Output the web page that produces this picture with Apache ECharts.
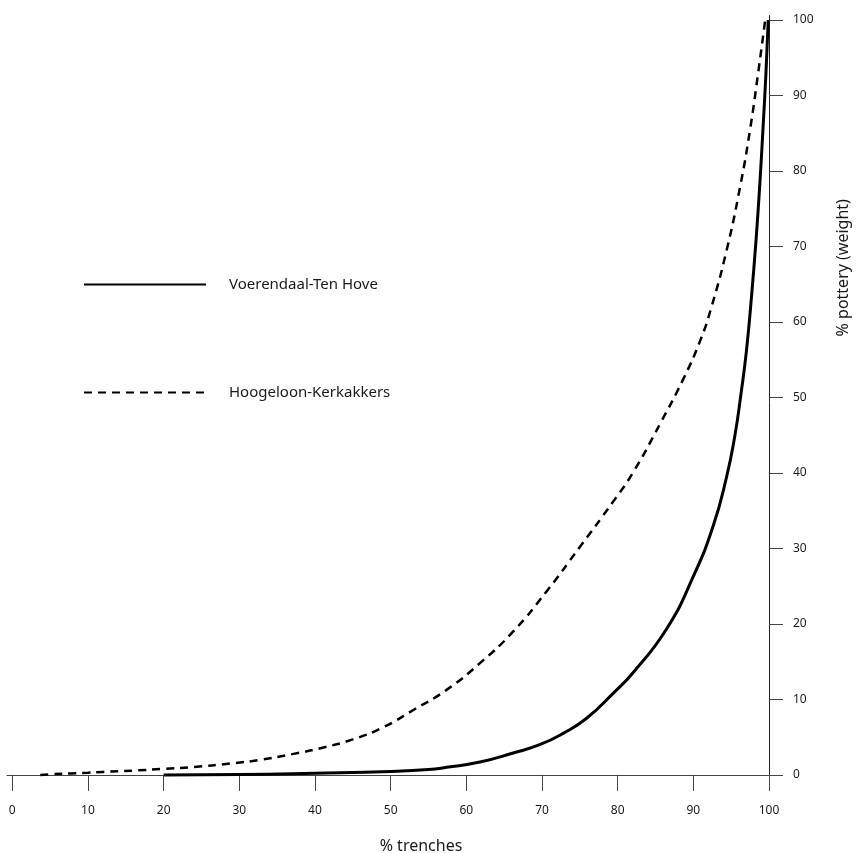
<!DOCTYPE html>
<html>
<head>
<meta charset="utf-8">
<title>pottery vs trenches</title>
<script src="https://cdn.jsdelivr.net/npm/echarts@6/dist/echarts.min.js"></script>
<style>
    html, body { margin: 0; padding: 0; background: #fff; }
    #main { width: 857px; height: 853px; }
</style>
</head>
<body>
<div id="main"></div>
<script>
    // tick labels (both axes 0..100)
    var tickValues = [0, 10, 20, 30, 40, 50, 60, 70, 80, 90, 100];

    // Voerendaal-Ten Hove (solid)
    var voerX = [20, 30, 40, 50, 55, 57.4, 61.8, 66.2, 69.7, 72.8, 75.9, 79.4, 82, 86.5, 90, 92.6, 94.4, 95.5, 96.3, 97, 97.7, 98.3, 98.8, 99.2, 99.6, 99.9];
    var voerY = [0, 0.05, 0.22, 0.45, 0.7, 1.0, 1.7, 2.9, 4.0, 5.5, 7.5, 10.8, 13.5, 19.4, 26.3, 32.9, 39.5, 45, 50.5, 56, 63.5, 71, 78.5, 85.5, 93, 100];

    // Hoogeloon-Kerkakkers (dashed)
    var hoogX = [3.7, 5.4, 7.7, 10, 12, 16, 20, 24, 28.8, 32.8, 37, 41, 45, 49, 53, 57.3, 61.8, 66.2, 70.6, 75, 79.4, 82, 85.6, 88.7, 90.9, 92.4, 94.4, 96.2, 97.5, 98.5, 99.5];
    var hoogY = [0, 0.1, 0.2, 0.3, 0.4, 0.57, 0.8, 1.05, 1.5, 2.0, 2.75, 3.6, 4.7, 6.3, 8.6, 11.2, 14.8, 19, 24.3, 30.2, 36.2, 40, 46.5, 52.5, 57.5, 62, 69.5, 78, 85.5, 92.5, 100];

    function pairs(xs, ys) {
        var out = [];
        for (var i = 0; i < xs.length; i++) out.push([xs[i], ys[i]]);
        return out;
    }

    var font = 'Noto Sans';
    var ink = '#1a1a1a';

    var myChart = echarts.init(document.getElementById('main'));
    var option = {
        animation: false,
        backgroundColor: '#fff',
        textStyle: { fontFamily: font, color: ink },
        grid: {
            left: 7,
            right: 88,
            top: 15.5,
            bottom: 63,
            containLabel: false,
            outerBoundsMode: 'none'
        },
        legend: {
            orient: 'vertical',
            left: 78,
            top: 272,
            itemWidth: 122,
            itemHeight: 14,
            itemGap: 93,
            itemStyle: { opacity: 0 },
            textStyle: { fontFamily: font, fontSize: 15, color: ink, padding: [0, 0, 3, 18] },
            data: ['Voerendaal-Ten Hove', 'Hoogeloon-Kerkakkers']
        },
        xAxis: {
            type: 'value',
            min: -0.7,
            max: 100,
            name: '% trenches',
            nameLocation: 'middle',
            nameGap: 48,
            nameMoveOverlap: false,
            nameTextStyle: { fontFamily: font, fontSize: 16, color: ink, padding: [0, 0, 0, 66] },
            axisLine: { show: true, onZero: true, lineStyle: { color: '#444', width: 1 } },
            axisTick: { show: true, length: 16, customValues: tickValues, lineStyle: { color: '#444', width: 1 } },
            axisLabel: { customValues: tickValues, margin: 15, fontSize: 12, color: ink, fontFamily: font },
            splitLine: { show: false }
        },
        yAxis: {
            type: 'value',
            position: 'right',
            min: -2,
            max: 100.6,
            name: '% pottery (weight)',
            nameLocation: 'middle',
            nameGap: 66,
            nameMoveOverlap: false,
            nameTextStyle: { fontFamily: font, fontSize: 16, color: ink, padding: [0, 0, 0, 270] },
            axisLine: { show: true, onZero: false, lineStyle: { color: '#222', width: 1 } },
            axisTick: { show: true, length: 14, customValues: tickValues, lineStyle: { color: '#444', width: 1 } },
            axisLabel: { customValues: tickValues, margin: 24, fontSize: 12, color: ink, fontFamily: font, padding: [0, 0, 6, 0] },
            splitLine: { show: false }
        },
        series: [
            {
                name: 'Voerendaal-Ten Hove',
                type: 'line',
                symbol: 'none',
                smooth: 0.5,
                lineStyle: { color: '#000', width: 3 },
                itemStyle: { color: '#000' },
                data: pairs(voerX, voerY)
            },
            {
                name: 'Hoogeloon-Kerkakkers',
                type: 'line',
                symbol: 'none',
                smooth: 0.5,
                lineStyle: { color: '#000', width: 2.5, type: [8, 6] },
                itemStyle: { color: '#000' },
                data: pairs(hoogX, hoogY)
            }
        ]
    };
    myChart.setOption(option);
</script>
</body>
</html>
